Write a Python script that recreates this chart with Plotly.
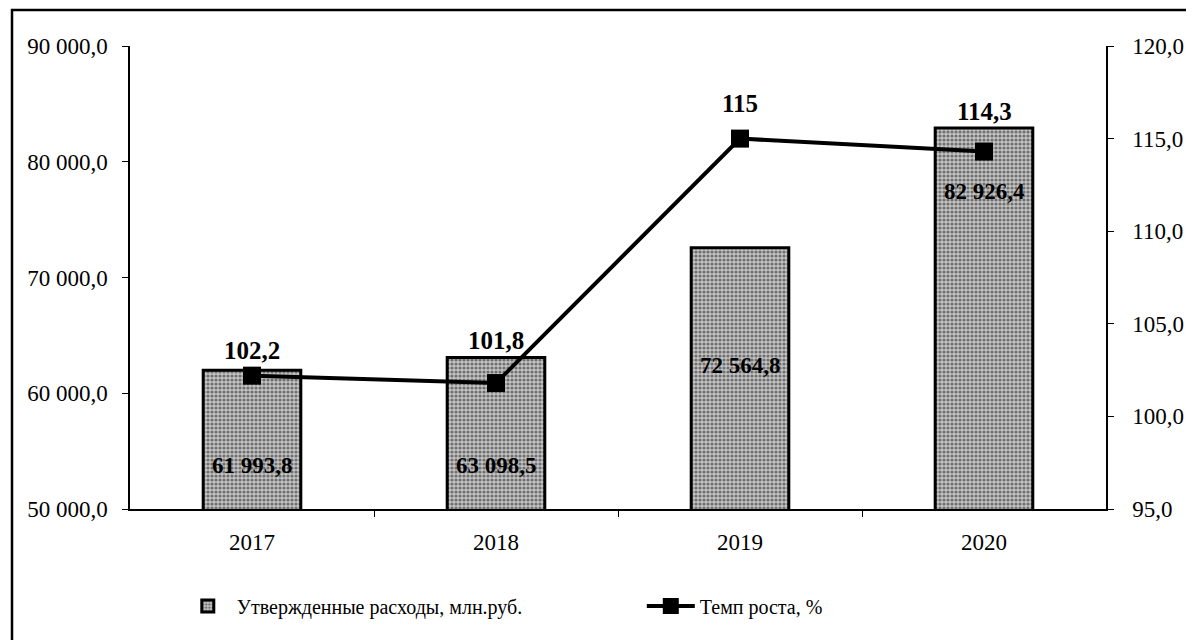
import plotly.graph_objects as go

years = [2017, 2018, 2019, 2020]
expenses = [61993.8, 63098.5, 72564.8, 82926.4]
growth = [102.2, 101.8, 115, 114.3]
bar_label_y = [53800, 53800, 62440, 77390]
growth_label_shift = [25, 43, 35, 40]
left_ticks = [50000, 60000, 70000, 80000, 90000]
right_ticks = [95, 100, 105, 110, 115, 120]

FONT = "Liberation Serif, Times New Roman, serif"

def fmt_thousands(v):
    s = f"{v:,.1f}"
    return s.replace(",", " ").replace(".", ",")

fig = go.Figure()
fig.add_trace(go.Bar(
    x=years, y=expenses, name="Утвержденные расходы, млн.руб.",
    width=0.4,
    marker=dict(color="#b8b8b8", line=dict(color="black", width=3),
                pattern=dict(shape=".", size=4, solidity=0.5, fgcolor="#1a1a1a", bgcolor="#c4c4c4")),
    yaxis="y", hoverinfo="skip",
))
fig.add_trace(go.Scatter(
    x=years, y=growth, name="Темп роста, %", yaxis="y2",
    mode="lines+markers",
    line=dict(color="black", width=4),
    marker=dict(symbol="square", size=18, color="black"),
))

for yr, v, ly in zip(years, expenses, bar_label_y):
    fig.add_annotation(x=yr, y=ly, xref="x", yref="y", text=f"<b>{fmt_thousands(v)}</b>",
                       showarrow=False, font=dict(family=FONT, size=23, color="black"))

for yr, g, sh in zip(years, growth, growth_label_shift):
    fig.add_annotation(x=yr, y=g, xref="x", yref="y2", yshift=sh,
                       text="<b>" + f"{g:g}".replace(".", ",") + "</b>",
                       showarrow=False, font=dict(family=FONT, size=25, color="black"))

fig.add_shape(type="rect", xref="paper", yref="paper",
              x0=-0.1209, x1=1.12, y0=-0.32, y1=1.0778,
              line=dict(color="black", width=2.5), fillcolor="rgba(0,0,0,0)", layer="below")

fig.update_layout(
    width=1194, height=640,
    margin=dict(l=122, r=96, t=38, b=139, autoexpand=False),
    paper_bgcolor="white", plot_bgcolor="white",
    font=dict(family=FONT, size=20, color="black"),
    showlegend=True,
    legend=dict(orientation="h", x=0.05, xanchor="left", y=-0.2095, yanchor="middle",
                font=dict(family=FONT, size=20, color="black"),
                entrywidth=400, itemwidth=48, traceorder="normal"),
    xaxis=dict(type="linear", range=[years[0] - 0.5, years[-1] + 0.5],
               tickvals=years, ticktext=[str(y) for y in years],
               ticks="", ticklabelstandoff=12,
               minor=dict(tickvals=[y + 0.5 for y in years[:-1]], ticks="outside",
                          ticklen=6, tickcolor="black", showgrid=False),
               showline=True, linecolor="black", linewidth=1.5,
               showgrid=False, zeroline=False,
               tickfont=dict(family=FONT, size=23)),
    yaxis=dict(range=[50000, 90000], tickvals=left_ticks,
               ticktext=[fmt_thousands(v) for v in left_ticks],
               showline=True, linecolor="black", linewidth=1.5, ticks="outside",
               ticklen=6, tickcolor="black", showgrid=False, zeroline=False,
               ticklabelstandoff=10,
               tickfont=dict(family=FONT, size=23)),
    yaxis2=dict(range=[95, 120], tickvals=right_ticks,
                ticktext=[f"{v:.1f}".replace(".", ",") for v in right_ticks],
                overlaying="y", side="right",
                showline=True, linecolor="black", linewidth=1.5, ticks="outside",
                ticklen=6, tickcolor="black", showgrid=False, zeroline=False,
                ticklabelstandoff=14,
                tickfont=dict(family=FONT, size=23)),
)

fig.write_html("out.html")
